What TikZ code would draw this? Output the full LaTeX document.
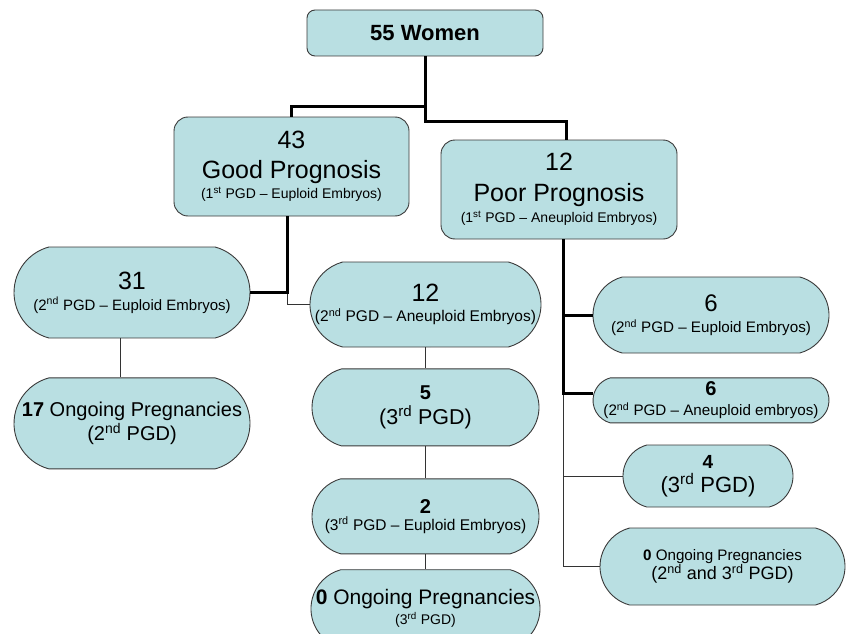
\documentclass[tikz,border=0pt]{standalone}
\usepackage{fontspec}
\setmainfont{Liberation Sans}
\usepackage{xcolor}
\usepackage{tikz}
\usetikzlibrary{positioning,shapes.misc}
\definecolor{boxfill}{HTML}{B9DFE2}
\definecolor{boxline}{HTML}{3A3A3A}
\definecolor{thinline}{HTML}{333333}
\newcommand{\sz}[2]{\fontsize{#1}{#2}\selectfont}
\newcommand{\ord}[2]{#1\textsuperscript{#2}}

\begin{document}
\begin{tikzpicture}[
  x=1pt, y=-1pt,
  trunk/.style={line width=3pt, draw=black},
  branch/.style={line width=1pt, draw=thinline},
  box/.style={draw=boxline, line width=0.9pt, fill=boxfill, inner sep=0pt, align=center},
  card/.style={box, rounded corners=#1},
  pill/.style={box, rounded rectangle, rounded rectangle arc length=150}
]
\clip (0,0) rectangle (846,634);

\node[card=8pt, minimum width=236pt, minimum height=46pt, font=\bfseries\sz{22}{26}] (women) at (425,33) {55 Women};
\node[card=14pt, minimum width=235pt, minimum height=99pt, font=\sz{14}{20}] (good) at (291.5,166.5) {{\sz{25}{28}43}\\[10pt]{\sz{25}{28}Good Prognosis}\\(\ord{1}{st} PGD – Euploid Embryos)};
\node[card=14pt, minimum width=236pt, minimum height=99pt, font=\sz{14}{21}] (poor) at (559,189.5) {{\sz{25}{28}12}\\[10pt]{\sz{25}{28}Poor Prognosis}\\(\ord{1}{st} PGD – Aneuploid Embryos)};

\node[pill, minimum width=236pt, minimum height=91pt, font=\sz{15}{21}] (g31) at (132,292.5) {{\sz{25}{28}31}\\(\ord{2}{nd} PGD – Euploid Embryos)};
\node[pill, minimum width=236pt, minimum height=91pt, font=\sz{20}{24}, below=39pt of g31] (g17) {\textbf{17} Ongoing Pregnancies\\(\ord{2}{nd} PGD)};

\node[pill, minimum width=227pt, minimum height=85pt, font=\sz{15.5}{20}] (g12) at (425.5,304.5) {{\sz{25}{28}12}\\(\ord{2}{nd} PGD – Aneuploid Embryos)};
\node[pill, minimum width=227pt, minimum height=77pt, font=\sz{21.5}{24.5}, below=21pt of g12] (g5) {{\bfseries\sz{20}{24}5}\\(\ord{3}{rd} PGD)};
\node[pill, minimum width=227pt, minimum height=75pt, font=\sz{15.5}{17}, below=32pt of g5] (g2) {{\bfseries\sz{20}{24}2}\\(\ord{3}{rd} PGD – Euploid Embryos)};
\node[pill, minimum width=227pt, minimum height=78pt, font=\sz{14}{20}, below=15pt of g2] (g0) {{\sz{21}{24}\textbf{0} Ongoing Pregnancies}\\(\ord{3}{rd} PGD)};

\node[pill, minimum width=236pt, minimum height=76pt, font=\sz{15.2}{21}] (p6a) at (711,315) {{\sz{24}{28}6}\\(\ord{2}{nd} PGD – Euploid Embryos)};
\node[pill, minimum width=236pt, minimum height=45pt, font=\sz{15.2}{20}, below=24pt of p6a] (p6b) {{\bfseries\sz{20}{24}6}\\(\ord{2}{nd} PGD – Aneuploid embryos)};
\node[pill, minimum width=170pt, minimum height=62pt, font=\sz{22}{24}] (p4) at (708,476) {{\bfseries\sz{19}{20}4}\\(\ord{3}{rd} PGD)};
\node[pill, minimum width=245pt, minimum height=77pt, font=\sz{15.2}{17}] (pz) at (722.5,566.5) {\textbf{0} Ongoing Pregnancies\\{\sz{18}{17}(\ord{2}{nd} and \ord{3}{rd} PGD)}};

\draw[trunk] (women.south) -- ++(0,50) -| (good.north);
\draw[trunk] (women.south) -- ++(0,65) -| ([xshift=7pt]poor.north);

\draw[branch] ([xshift=-4pt]good.south) |- (g12.west);
\draw[trunk] ([xshift=-4pt]good.south) |- (g31.east);
\draw[branch] ([xshift=-12pt]g31.south) -- ([xshift=-12pt]g17.north);
\draw[branch] (g12.south) -- (g5.north);
\draw[branch] (g5.south) -- (g2.north);
\draw[branch] (g2.south) -- (g0.north);

\draw[branch] ([xshift=4pt]poor.south) |- (p4.west);
\draw[branch] ([xshift=4pt]poor.south) |- (pz.west);
\draw[trunk] ([xshift=4pt]poor.south) |- (p6a.west);
\draw[trunk] ([xshift=4pt]poor.south) |- ([yshift=7pt]p6b.west);
\end{tikzpicture}
\end{document}
